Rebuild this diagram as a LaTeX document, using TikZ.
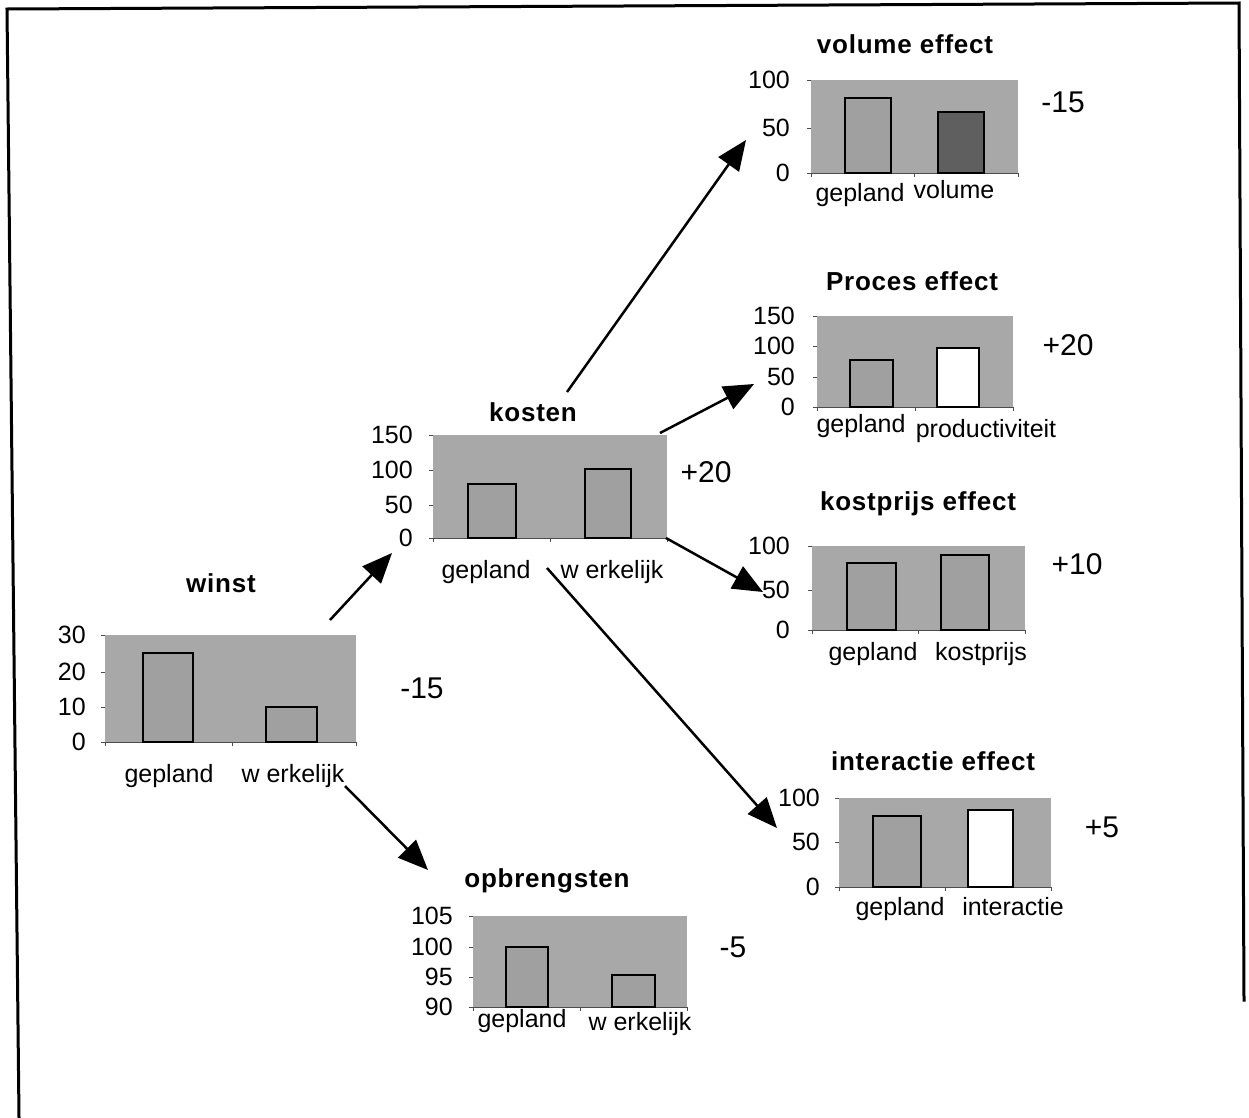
\documentclass[tikz,border=0pt]{standalone}
\usepackage{fontspec}
\setmainfont{Liberation Sans}
\newfontfamily\ttlfont[LetterSpace=3]{Liberation Sans}
\usetikzlibrary{arrows.meta}
\definecolor{areagray}{RGB}{168,168,168}
\definecolor{bargray}{RGB}{160,160,160}
\definecolor{darkbar}{RGB}{95,95,95}
\newcommand\lblfont{\fontsize{25}{29}\selectfont}
\newcommand\valfont{\fontsize{30}{34}\selectfont}
\begin{document}
\begin{tikzpicture}[x=1pt,y=-1pt,
  plotbg/.style={fill=areagray},
  axisln/.style={draw=black!70,line width=0.8pt},
  barbox/.style={draw=black,line width=2.2pt,fill=bargray},
  ticklbl/.style={anchor=east,inner sep=0pt,font=\lblfont},
  catlbl/.style={anchor=base,inner sep=0pt,font=\lblfont},
  vallbl/.style={inner sep=0pt,font=\valfont},
  ttl/.style={anchor=base,inner sep=0pt,font=\ttlfont\bfseries\fontsize{26}{30}\selectfont},
  link/.style={line width=2.5pt,-{Triangle[length=30pt,width=25pt]}},
  frameln/.style={line width=3pt,line cap=rect}]
\useasboundingbox (0,0) rectangle (1249,1117);

% outer frame
\coordinate (fTL) at (7,9);
\coordinate (fTR) at (1239,3);
\coordinate (fBL) at (19,1117);
\coordinate (fBR) at (1244,1000);
\draw[frameln] (fBL) -- (fTL) -- (fTR) -- (fBR);

% ---------- winst ----------
\node[ttl] (tWinst) at (221,592) {winst};
\fill[plotbg] (105,635) rectangle (356,742);
\draw[axisln] (105,742) -- (356,742);
\foreach \t in {635,672,707,742} \draw[axisln] (101,\t) -- (105,\t);
\foreach \t in {105,232,356} \draw[axisln] (\t,742) -- (\t,746);
\draw[barbox] (143,742) rectangle (193,653);
\draw[barbox] (266,742) rectangle (317,707);
\foreach \v/\t in {30/635,20/672,10/707,0/742}
  \node[ticklbl] (winst-\v) at (86,\t) {\v};
\node[catlbl] (winstA) at (169,782) {gepland};
\node[catlbl] (winstB) at (293,782) {w erkelijk};
\node[vallbl] (winstV) at (422,688) {-15};

% ---------- kosten ----------
\node[ttl] (tKosten) at (533,421) {kosten};
\fill[plotbg] (433,435) rectangle (667,538);
\draw[axisln] (433,538) -- (667,538);
\foreach \t in {435,470,505,538} \draw[axisln] (429,\t) -- (433,\t);
\foreach \t in {433,550,667} \draw[axisln] (\t,538) -- (\t,542);
\draw[barbox] (468,538) rectangle (516,484);
\draw[barbox] (585,538) rectangle (631,469);
\foreach \v/\t in {150/435,100/470,50/505,0/538}
  \node[ticklbl] (kosten-\v) at (413,\t) {\v};
\node[catlbl] (kostenA) at (486,578) {gepland};
\node[catlbl] (kostenB) at (612,578) {w erkelijk};
\node[vallbl] (kostenV) at (706,472) {+20};

% ---------- volume effect ----------
\node[ttl] (tVolume) at (905,53) {volume effect};
\fill[plotbg] (811,80) rectangle (1018,173);
\draw[axisln] (811,173) -- (1018,173);
\foreach \t in {80,128,173} \draw[axisln] (807,\t) -- (811,\t);
\foreach \t in {811,914,1018} \draw[axisln] (\t,173) -- (\t,177);
\draw[barbox] (845,173) rectangle (891,98);
\draw[barbox,fill=darkbar] (938,173) rectangle (984,112);
\foreach \v/\t in {100/80,50/128,0/173}
  \node[ticklbl] (volume-\v) at (790,\t) {\v};
\node[catlbl] (volumeA) at (860,201) {gepland};
\node[catlbl] (volumeB) at (954,198) {volume};
\node[vallbl] (volumeV) at (1063,102) {-15};

% ---------- Proces effect ----------
\node[ttl] (tProces) at (912,290) {Proces effect};
\fill[plotbg] (817,316) rectangle (1013,407);
\draw[axisln] (817,407) -- (1013,407);
\foreach \t in {316,346,377,407} \draw[axisln] (813,\t) -- (817,\t);
\foreach \t in {817,915,1013} \draw[axisln] (\t,407) -- (\t,411);
\draw[barbox] (850,407) rectangle (893,360);
\draw[barbox,fill=white] (937,407) rectangle (979,348);
\foreach \v/\t in {150/316,100/346,50/377,0/407}
  \node[ticklbl] (proces-\v) at (795,\t) {\v};
\node[catlbl] (procesA) at (861,432) {gepland};
\node[catlbl] (procesB) at (986,437) {productiviteit};
\node[vallbl] (procesV) at (1068,345) {+20};

% ---------- kostprijs effect ----------
\node[ttl] (tKostprijs) at (918,510) {kostprijs effect};
\fill[plotbg] (812,546) rectangle (1025,630);
\draw[axisln] (812,630) -- (1025,630);
\foreach \t in {546,590,630} \draw[axisln] (808,\t) -- (812,\t);
\foreach \t in {812,918,1025} \draw[axisln] (\t,630) -- (\t,634);
\draw[barbox] (847,630) rectangle (896,563);
\draw[barbox] (941,630) rectangle (989,555);
\foreach \v/\t in {100/546,50/590,0/630}
  \node[ticklbl] (kostprijs-\v) at (790,\t) {\v};
\node[catlbl] (kostprijsA) at (873,660) {gepland};
\node[catlbl] (kostprijsB) at (981,660) {kostprijs};
\node[vallbl] (kostprijsV) at (1077,564) {+10};

% ---------- interactie effect ----------
\node[ttl] (tInteractie) at (933,770) {interactie effect};
\fill[plotbg] (839,798) rectangle (1051,887);
\draw[axisln] (839,887) -- (1051,887);
\foreach \t in {798,842,887} \draw[axisln] (835,\t) -- (839,\t);
\foreach \t in {839,945,1051} \draw[axisln] (\t,887) -- (\t,891);
\draw[barbox] (873,887) rectangle (921,816);
\draw[barbox,fill=white] (968,887) rectangle (1013,810);
\foreach \v/\t in {100/798,50/842,0/887}
  \node[ticklbl] (interactie-\v) at (820,\t) {\v};
\node[catlbl] (interactieA) at (900,915) {gepland};
\node[catlbl] (interactieB) at (1013,915) {interactie};
\node[vallbl] (interactieV) at (1102,827) {+5};

% ---------- opbrengsten ----------
\node[ttl] (tOpbrengsten) at (547,887) {opbrengsten};
\fill[plotbg] (473,916) rectangle (687,1007);
\draw[axisln] (473,1007) -- (687,1007);
\foreach \t in {916,947,977,1007} \draw[axisln] (469,\t) -- (473,\t);
\foreach \t in {473,580,687} \draw[axisln] (\t,1007) -- (\t,1011);
\draw[barbox] (506,1007) rectangle (548,947);
\draw[barbox] (612,1007) rectangle (655,975);
\foreach \v/\t in {105/916,100/947,95/977,90/1007}
  \node[ticklbl] (opbrengsten-\v) at (453,\t) {\v};
\node[catlbl] (opbrengstenA) at (522,1027) {gepland};
\node[catlbl] (opbrengstenB) at (640,1030) {w erkelijk};
\node[vallbl] (opbrengstenV) at (733,947) {-5};

% ---------- connectors ----------
\coordinate (aS) at (330,620);  \coordinate (aE) at (392,553);
\coordinate (bS) at (345,786);  \coordinate (bE) at (428,870);
\coordinate (cS) at (567,392);  \coordinate (cE) at (746,140);
\coordinate (dS) at (660,433);  \coordinate (dE) at (754,384);
\coordinate (eS) at (666,538);  \coordinate (eE) at (763,592);
\coordinate (fS) at (547,568);  \coordinate (fE) at (777,828);
\draw[link] (aS) -- (aE);
\draw[link] (bS) -- (bE);
\draw[link] (cS) -- (cE);
\draw[link] (dS) -- (dE);
\draw[link] (eS) -- (eE);
\draw[link] (fS) -- (fE);
\end{tikzpicture}
\end{document}
